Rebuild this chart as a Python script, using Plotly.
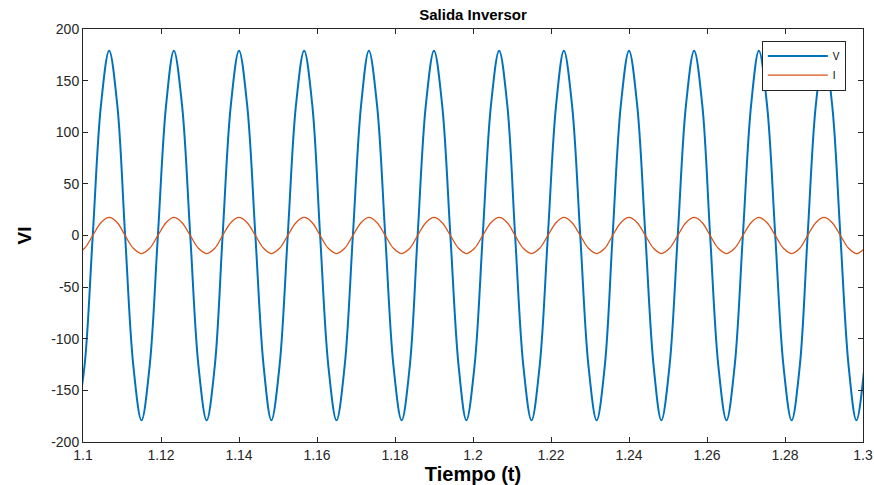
import plotly.graph_objects as go

# Sample instants (s): troughs, eighth-period points, zero crossings, peaks
t = [
    1.0983, 1.1004, 1.1025, 1.1046, 1.1067, 1.1088, 1.1108, 1.1129,
    1.1150, 1.1171, 1.1192, 1.1213, 1.1233, 1.1254, 1.1275, 1.1296,
    1.1317, 1.1338, 1.1358, 1.1379, 1.1400, 1.1421, 1.1442, 1.1463,
    1.1483, 1.1504, 1.1525, 1.1546, 1.1567, 1.1588, 1.1608, 1.1629,
    1.1650, 1.1671, 1.1692, 1.1713, 1.1733, 1.1754, 1.1775, 1.1796,
    1.1817, 1.1838, 1.1858, 1.1879, 1.1900, 1.1921, 1.1942, 1.1963,
    1.1983, 1.2004, 1.2025, 1.2046, 1.2067, 1.2088, 1.2108, 1.2129,
    1.2150, 1.2171, 1.2192, 1.2213, 1.2233, 1.2254, 1.2275, 1.2296,
    1.2317, 1.2338, 1.2358, 1.2379, 1.2400, 1.2421, 1.2442, 1.2463,
    1.2483, 1.2504, 1.2525, 1.2546, 1.2567, 1.2588, 1.2608, 1.2629,
    1.2650, 1.2671, 1.2692, 1.2713, 1.2733, 1.2754, 1.2775, 1.2796,
    1.2817, 1.2838, 1.2858, 1.2879, 1.2900, 1.2921, 1.2942, 1.2963,
    1.2983, 1.3004, 1.3025,
]

v_vals = [
    -179, -126, 0, 126, 179, 126, 0, -126,
    -179, -126, 0, 126, 179, 126, 0, -126,
    -179, -126, 0, 126, 179, 126, 0, -126,
    -179, -126, 0, 126, 179, 126, 0, -126,
    -179, -126, 0, 126, 179, 126, 0, -126,
    -179, -126, 0, 126, 179, 126, 0, -126,
    -179, -126, 0, 126, 179, 126, 0, -126,
    -179, -126, 0, 126, 179, 126, 0, -126,
    -179, -126, 0, 126, 179, 126, 0, -126,
    -179, -126, 0, 126, 179, 126, 0, -126,
    -179, -126, 0, 126, 179, 126, 0, -126,
    -179, -126, 0, 126, 179, 126, 0, -126,
    -179, -126, 0,
]

i_vals = [
    -17.5, -12.4, 0, 12.4, 17.5, 12.4, 0, -12.4,
    -17.5, -12.4, 0, 12.4, 17.5, 12.4, 0, -12.4,
    -17.5, -12.4, 0, 12.4, 17.5, 12.4, 0, -12.4,
    -17.5, -12.4, 0, 12.4, 17.5, 12.4, 0, -12.4,
    -17.5, -12.4, 0, 12.4, 17.5, 12.4, 0, -12.4,
    -17.5, -12.4, 0, 12.4, 17.5, 12.4, 0, -12.4,
    -17.5, -12.4, 0, 12.4, 17.5, 12.4, 0, -12.4,
    -17.5, -12.4, 0, 12.4, 17.5, 12.4, 0, -12.4,
    -17.5, -12.4, 0, 12.4, 17.5, 12.4, 0, -12.4,
    -17.5, -12.4, 0, 12.4, 17.5, 12.4, 0, -12.4,
    -17.5, -12.4, 0, 12.4, 17.5, 12.4, 0, -12.4,
    -17.5, -12.4, 0, 12.4, 17.5, 12.4, 0, -12.4,
    -17.5, -12.4, 0,
]

x_ticks = [1.1, 1.12, 1.14, 1.16, 1.18, 1.2, 1.22, 1.24, 1.26, 1.28, 1.3]
x_tick_labels = ["1.1", "1.12", "1.14", "1.16", "1.18", "1.2", "1.22", "1.24", "1.26", "1.28", "1.3"]
y_ticks = [-200, -150, -100, -50, 0, 50, 100, 150, 200]
y_tick_labels = ["-200", "-150", "-100", "-50", "0", "50", "100", "150", "200"]

AX = "#262626"
FONT = "Liberation Sans, Arial, sans-serif"

fig = go.Figure()
fig.add_trace(go.Scatter(x=t, y=v_vals, mode="lines", name="V",
                         line=dict(color="#0072BD", width=2, shape="spline", smoothing=1.0)))
fig.add_trace(go.Scatter(x=t, y=i_vals, mode="lines", name="I",
                         line=dict(color="#D95319", width=1.3, shape="spline", smoothing=1.0)))

axis_common = dict(showline=True, linecolor=AX, linewidth=1, mirror="ticks",
                   ticks="inside", ticklen=5, tickcolor=AX, showgrid=False,
                   zeroline=False, tickfont=dict(family=FONT, size=14, color=AX))

fig.update_layout(
    width=874, height=485,
    paper_bgcolor="white", plot_bgcolor="white",
    margin=dict(l=83, r=11, t=29, b=43),
    title=dict(text="<b>Salida Inversor</b>", x=0.5, xref="paper", y=1 - 15 / 485,
               yref="container", yanchor="middle", xanchor="center",
               font=dict(family=FONT, size=15, color="black")),
    xaxis=dict(range=[1.1, 1.3], tickvals=x_ticks, ticktext=x_tick_labels,
               title=dict(text="<b>Tiempo (t)</b>", font=dict(family=FONT, size=20, color="black"),
                          standoff=5),
               automargin=False, **axis_common),
    yaxis=dict(range=[-200, 200], tickvals=y_ticks, ticktext=y_tick_labels,
               title=dict(text="<b>VI</b>", font=dict(family=FONT, size=19, color="black"),
                          standoff=14),
               automargin=False, **axis_common),
    legend=dict(x=0.978, y=0.972, xanchor="right", yanchor="top",
                bgcolor="white", bordercolor=AX, borderwidth=1,
                font=dict(family=FONT, size=10, color="black"),
                itemwidth=60, tracegroupgap=0),
    showlegend=True,
)

fig.write_html("out.html", config={"displayModeBar": False},
               post_script="document.body.style.margin='0';")
